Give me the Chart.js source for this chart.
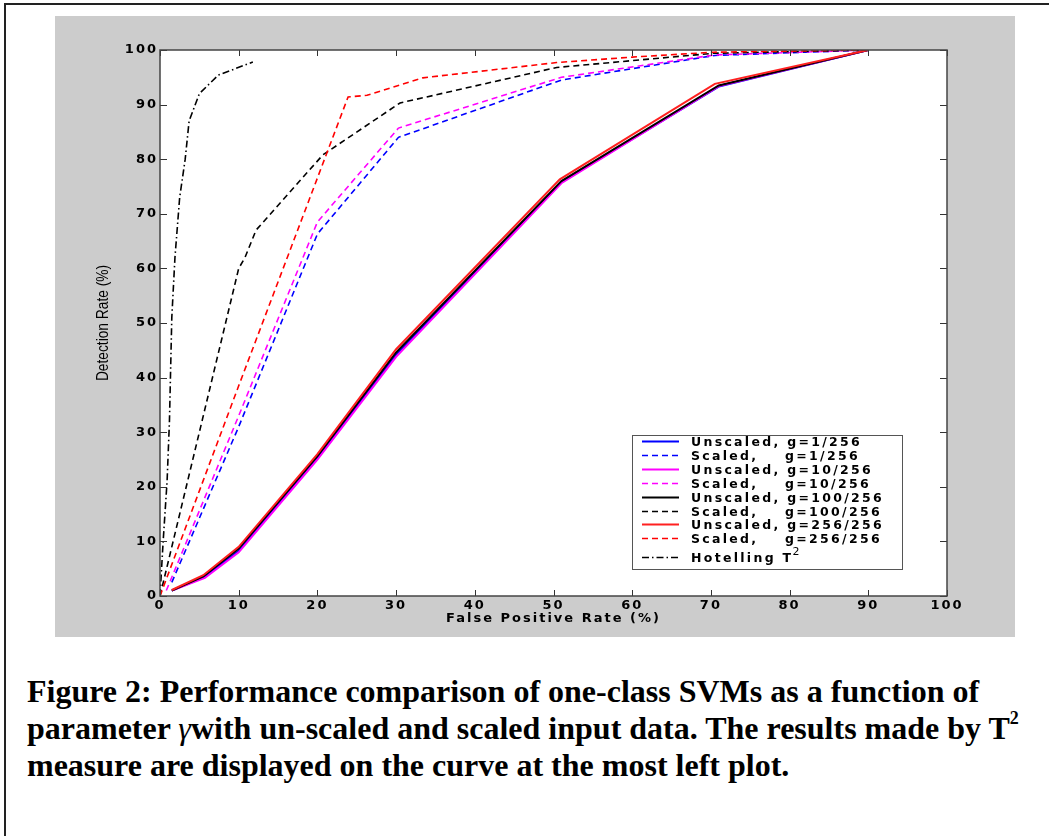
<!DOCTYPE html>
<html>
<head>
<meta charset="utf-8">
<title>Performance comparison of one-class SVMs</title>
<script src="https://cdn.jsdelivr.net/npm/chart.js@4/dist/chart.umd.min.js"></script>
<style>
  body { margin: 0; width: 1049px; height: 836px; background: #fff; position: relative; overflow: hidden; }
  .frame { position: absolute; left: 4px; top: 3px; width: 1100px; height: 900px; border-top: 2px solid #222; border-left: 2px solid #222; }
  .plot { position: absolute; left: 55px; top: 16px; width: 960px; height: 621px; }
  .caption {
    position: absolute; left: 27px; top: 673px;
    font-family: "Liberation Serif", "Times New Roman", serif;
    font-weight: bold; font-size: 32px; line-height: 37px; white-space: nowrap; color: #000;
  }
  .caption i { font-weight: normal; }
  .caption sup { font-size: 18px; line-height: 0; position: relative; top: -3px; }
</style>
</head>
<body>
<div class="frame"></div>
<div class="plot"><canvas id="roc" width="960" height="621"></canvas></div>
<div class="caption">Figure 2: Performance comparison of one-class SVMs as a function of<br>parameter <i>γ</i>with un-scaled and scaled input data. The results made by T<sup>2</sup><br>measure are displayed on the curve at the most left plot.</div>

<script>
"use strict";

// Axis ticks (%)
const tickValues = [0, 10, 20, 30, 40, 50, 60, 70, 80, 90, 100];

// Unscaled input data (solid lines)
const fprUnscaled1 = [1.5, 5.5, 10, 20, 30, 51, 71, 90];
const detUnscaled1 = [1.0, 3.4, 8.3, 25.3, 44.2, 75.8, 93.3, 100];
const fprUnscaled10 = [1.5, 5.7, 10, 20, 30, 51, 71, 90];
const detUnscaled10 = [1.0, 3.3, 8.0, 25.0, 43.8, 75.6, 93.4, 100];
const fprUnscaled100 = [1.5, 5.5, 10, 20, 30, 51, 71, 90];
const detUnscaled100 = [1.0, 3.6, 8.7, 25.6, 44.6, 76.0, 93.5, 100];
const fprUnscaled256 = [1.5, 5.5, 10, 20, 30, 50.8, 70.5, 90];
const detUnscaled256 = [1.1, 3.8, 9.0, 26.0, 45.2, 76.3, 93.8, 100];

// Scaled input data (dashed lines)
const fprScaled1 = [1.5, 10, 20, 30.3, 51, 70.5, 90];
const detScaled1 = [2.5, 31, 66.3, 84, 94.5, 99, 100];
const fprScaled10 = [0.8, 10, 20, 30.3, 51, 70.5, 90];
const detScaled10 = [1.0, 33, 68.5, 85.7, 95, 99.1, 100];
const fprScaled100 = [0, 10, 10.8, 12.2, 20.7, 30.5, 50.4, 70.3, 90];
const detScaled100 = [0, 60, 62, 67, 80.8, 90.3, 96.8, 99.4, 100];
const fprScaled256 = [0, 10, 23.9, 26.3, 33.4, 50.4, 60, 70.3, 90];
const detScaled256 = [0, 38.5, 91.4, 91.7, 94.9, 97.7, 98.7, 99.6, 100];

// Hotelling T^2 (dash-dot)
const fprHotelling = [0, 0.4, 0.9, 1.2, 1.5, 1.9, 2.5, 3.2, 3.7, 5.0, 7.4, 11.8];
const detHotelling = [0, 10, 21, 32, 51, 62, 73, 80, 87, 92, 95.4, 97.8];

const SOLID = [];
const DASH = [6, 4];
const DASHDOT = [7, 3, 1.5, 3];

function series(label, xs, ys, color, dash, order) {
  return {
    label: label,
    data: xs.map((x, i) => ({ x: x, y: ys[i] })),
    borderColor: color,
    borderDash: dash,
    borderWidth: dash.length ? 1.6 : 2,
    pointRadius: 0,
    tension: 0,
    fill: false,
    order: order
  };
}

const datasets = [
  series("Unscaled, g=1/256", fprUnscaled1, detUnscaled1, "#0000ff", SOLID, 8),
  series("Scaled,    g=1/256", fprScaled1, detScaled1, "#0000ff", DASH, 7),
  series("Unscaled, g=10/256", fprUnscaled10, detUnscaled10, "#ff00ff", SOLID, 6),
  series("Scaled,    g=10/256", fprScaled10, detScaled10, "#ff00ff", DASH, 5),
  series("Unscaled, g=100/256", fprUnscaled100, detUnscaled100, "#000000", SOLID, 4),
  series("Scaled,    g=100/256", fprScaled100, detScaled100, "#000000", DASH, 3),
  series("Unscaled, g=256/256", fprUnscaled256, detUnscaled256, "#ff2020", SOLID, 2),
  series("Scaled,    g=256/256", fprScaled256, detScaled256, "#ff0000", DASH, 1),
  series("Hotelling T²", fprHotelling, detHotelling, "#000000", DASHDOT, 0)
];

const FONT = "'DejaVu Sans', Arial, sans-serif";

// gray figure background, white axes, inward ticks, box and legend
const matlabLook = {
  id: "matlabLook",
  beforeDraw(chart) {
    const { ctx, chartArea: a } = chart;
    ctx.save();
    ctx.fillStyle = "#cccccc";
    ctx.fillRect(0, 0, chart.width, chart.height);
    ctx.fillStyle = "#ffffff";
    ctx.fillRect(a.left, a.top, a.width, a.height);
    ctx.restore();
    ctx.letterSpacing = "2px";
  },
  afterDatasetsDraw(chart) {
    const { ctx, chartArea: a } = chart;
    const xs = chart.scales.x, ys = chart.scales.y;
    ctx.save();
    ctx.letterSpacing = "0px";
    ctx.strokeStyle = "#333";
    ctx.lineWidth = 1;
    ctx.setLineDash([]);
    ctx.beginPath();
    xs.ticks.forEach((t) => {
      const px = Math.round(xs.getPixelForValue(t.value)) + 0.5;
      ctx.moveTo(px, a.bottom); ctx.lineTo(px, a.bottom - 6);
      ctx.moveTo(px, a.top); ctx.lineTo(px, a.top + 6);
    });
    ys.ticks.forEach((t) => {
      const py = Math.round(ys.getPixelForValue(t.value)) + 0.5;
      ctx.moveTo(a.left, py); ctx.lineTo(a.left + 7, py);
      ctx.moveTo(a.right, py); ctx.lineTo(a.right - 7, py);
    });
    ctx.stroke();
    ctx.lineWidth = 1.5;
    ctx.strokeStyle = "#444";
    ctx.strokeRect(a.left, a.top, a.width, a.height);

    // legend box
    const bw = 270, bh = 134;
    const bx = a.right - 45 - bw, by = a.bottom - 27 - bh;
    ctx.fillStyle = "#ffffff";
    ctx.fillRect(bx, by, bw, bh);
    ctx.lineWidth = 1;
    ctx.strokeStyle = "#555";
    ctx.strokeRect(bx + 0.5, by + 0.5, bw, bh);

    const rows = [6, 20, 34, 48, 62, 76, 89, 103, 122];
    ctx.textBaseline = "alphabetic";
    chart.data.datasets.forEach((ds, i) => {
      const cy = by + rows[i];
      ctx.strokeStyle = ds.borderColor;
      ctx.lineWidth = ds.borderDash.length ? 1.6 : 2;
      ctx.setLineDash(ds.borderDash);
      ctx.beginPath();
      ctx.moveTo(bx + 10, Math.round(cy) + 0.5);
      ctx.lineTo(bx + 47, Math.round(cy) + 0.5);
      ctx.stroke();
      ctx.fillStyle = "#000";
      ctx.font = "bold 12.5px " + FONT;
      ctx.letterSpacing = "2.3px";
      let label = ds.label;
      const sup = label.endsWith("²");
      if (sup) label = label.slice(0, -1);
      ctx.fillText(label, bx + 59, cy + 4.5);
      if (sup) {
        const w = ctx.measureText(label).width;
        ctx.font = "11px " + FONT;
        ctx.letterSpacing = "0px";
        ctx.fillText("2", bx + 59 + w - 1, cy - 2.5);
      }
    });
    ctx.restore();
  },
  afterDraw(chart) {
    const { ctx, chartArea: a } = chart;
    ctx.save();
    ctx.letterSpacing = "0px";
    ctx.translate(49, (a.top + a.bottom) / 2);
    ctx.rotate(-Math.PI / 2);
    ctx.scale(0.86, 1);
    ctx.font = "16px 'Liberation Sans', Arial, sans-serif";
    ctx.fillStyle = "#000";
    ctx.textAlign = "center";
    ctx.textBaseline = "middle";
    ctx.fillText("Detection Rate (%)", 0, 0);
    ctx.restore();
  }
};

const tickFont = { family: FONT, size: 13, weight: "bold" };

new Chart(document.getElementById("roc"), {
  type: "line",
  data: { datasets: datasets },
  plugins: [matlabLook],
  options: {
    responsive: false,
    devicePixelRatio: 1,
    animation: false,
    layout: { padding: { left: 50, right: 68, top: 34, bottom: 0 } },
    plugins: { legend: { display: false }, tooltip: { enabled: false } },
    scales: {
      x: {
        type: "linear",
        min: 0,
        max: 100,
        afterBuildTicks: (s) => { s.ticks = tickValues.map((v) => ({ value: v })); },
        afterFit: (s) => { s.height = 41; },
        grid: { display: false, drawTicks: false },
        border: { display: false },
        ticks: { color: "#000", font: tickFont, padding: 2, maxRotation: 0, autoSkip: false },
        title: {
          display: true,
          text: "False Positive Rate (%)",
          color: "#000",
          font: { family: FONT, size: 13, weight: "bold" },
          padding: { top: 0, bottom: 11 }
        }
      },
      y: {
        type: "linear",
        min: 0,
        max: 100,
        afterBuildTicks: (s) => { s.ticks = tickValues.map((v) => ({ value: v })); },
        afterFit: (s) => { s.width = 55; },
        grid: { display: false, drawTicks: false },
        border: { display: false },
        ticks: { color: "#000", font: tickFont, padding: 2, autoSkip: false }
      }
    }
  }
});
</script>
</body>
</html>
